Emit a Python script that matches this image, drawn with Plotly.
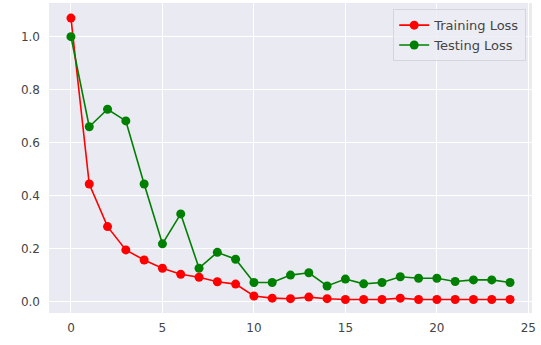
import plotly.graph_objects as go

epochs = list(range(25))
training_loss = [1.07, 0.444, 0.283, 0.195, 0.157, 0.126, 0.103, 0.092, 0.075, 0.066,
                 0.021, 0.013, 0.011, 0.017, 0.011, 0.008, 0.008, 0.008, 0.013, 0.008,
                 0.008, 0.008, 0.008, 0.008, 0.008]
testing_loss = [1.0, 0.66, 0.726, 0.682, 0.444, 0.218, 0.331, 0.126, 0.186, 0.16,
                0.072, 0.072, 0.1, 0.109, 0.059, 0.085, 0.067, 0.072, 0.094, 0.088,
                0.088, 0.076, 0.082, 0.082, 0.072]
x_ticks = [0, 5, 10, 15, 20, 25]
y_ticks = [0.0, 0.2, 0.4, 0.6, 0.8, 1.0]

fig = go.Figure()
fig.add_trace(go.Scatter(x=epochs, y=training_loss, mode="lines+markers", name="Training Loss",
                         line=dict(color="red", width=1.6), marker=dict(color="red", size=9)))
fig.add_trace(go.Scatter(x=epochs, y=testing_loss, mode="lines+markers", name="Testing Loss",
                         line=dict(color="green", width=1.6), marker=dict(color="green", size=9)))

fig.update_layout(
    width=541, height=345,
    margin=dict(l=49, r=9, t=3, b=32),
    paper_bgcolor="white", plot_bgcolor="#EAEAF2",
    font=dict(family="DejaVu Sans", size=12, color="#444444"),
    showlegend=True,
    legend=dict(x=0.988, y=0.98, xanchor="right", yanchor="top",
                bgcolor="rgba(236,236,244,0.85)", bordercolor="#D5D5DD", borderwidth=1,
                font=dict(size=13, color="#444444"), tracegroupgap=0),
)
fig.update_xaxes(range=[-1.2, 25.2], tickvals=x_ticks, ticktext=[str(v) for v in x_ticks],
                 showgrid=True, gridcolor="white", gridwidth=1, zeroline=False,
                 showline=False, ticks="", ticklabelstandoff=6)
fig.update_yaxes(range=[-0.043, 1.127], tickvals=y_ticks, ticktext=[f"{v:.1f}" for v in y_ticks],
                 showgrid=True, gridcolor="white", gridwidth=1, zeroline=False,
                 showline=False, ticks="", ticklabelstandoff=8)

fig.write_html("out.html", config={"displayModeBar": False},
               post_script="document.body.style.margin='0px';document.body.style.overflow='hidden';")
